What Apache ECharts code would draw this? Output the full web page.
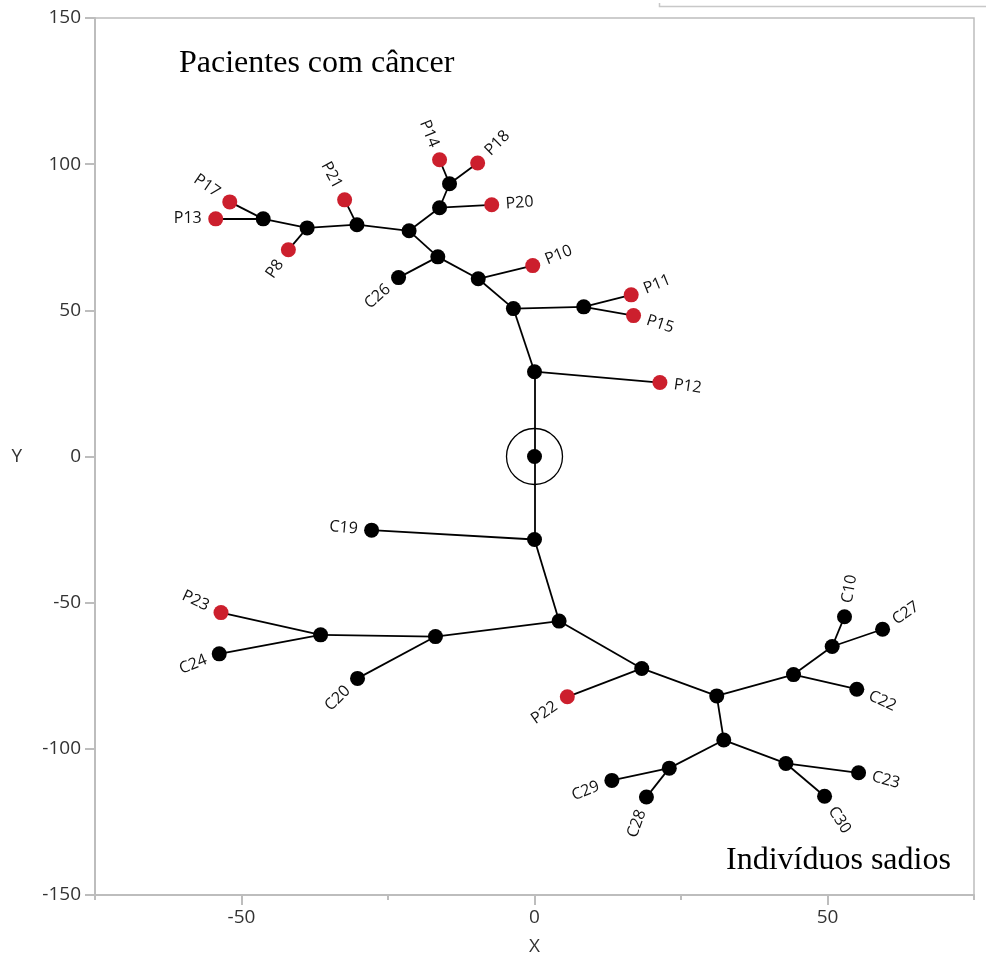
<!DOCTYPE html>
<html>
<head>
<meta charset="utf-8">
<script src="https://cdn.jsdelivr.net/npm/echarts@6/dist/echarts.min.js"></script>
<style>
  html, body { margin: 0; padding: 0; background: #fff; }
  #chart { width: 986px; height: 961px; }
</style>
</head>
<body>
<div id="chart"></div>
<script>
// ---- data ----
const nodeNames = ['', '', 'P12', '', '', 'P11', 'P15', '', 'P10', '', 'C26', '', '', 'P20', '', 'P14', 'P18', '', 'P21', '', 'P8', '', 'P17', 'P13',
  '', 'C19', '', '', 'C20', '', 'P23', 'C24', '', 'P22', '', '', '', 'C10', 'C27', 'C22', '', '', 'C29', 'C28', '', 'C23', 'C30'];
const nodeX = [0, 0, 21.4, -3.6, 8.4, 16.5, 16.9, -9.6, -0.3, -16.5, -23.2, -21.4, -16.2, -7.3, -14.5, -16.2, -9.7, -30.3, -32.4, -38.8, -42.0, -46.3, -52.0, -54.4,
  0, -27.8, 4.2, -16.9, -30.2, -36.5, -53.5, -53.8, 18.3, 5.6, 31.1, 44.2, 50.8, 52.9, 59.4, 55.0, 32.3, 23.0, 13.2, 19.1, 42.9, 55.3, 49.5];
const nodeY = [0, 29, 25.3, 50.6, 51.2, 55.3, 48.2, 60.8, 65.3, 68.3, 61.2, 77.2, 85.1, 86.1, 93.3, 101.5, 100.4, 79.3, 87.8, 78.2, 70.7, 81.3, 87.1, 81.3,
  -28.4, -25.2, -56.3, -61.6, -75.9, -61.0, -53.4, -67.5, -72.5, -82.2, -81.9, -74.6, -65.0, -54.8, -59.1, -79.6, -97.0, -106.6, -110.8, -116.5, -105.0, -108.2, -116.2];
const nodeParent = [-1, 0, 1, 1, 3, 4, 4, 3, 7, 7, 9, 9, 11, 12, 12, 14, 14, 11, 17, 17, 19, 19, 21, 21,
  0, 24, 24, 26, 27, 27, 29, 29, 26, 32, 32, 34, 35, 36, 36, 35, 34, 40, 41, 41, 40, 44, 44];
const rootIndex = 0;
const xLabelValues = [-50, 0, 50];
const xMinorTickValues = [-75, -25, 25, 75];
const annotations = ['Pacientes com câncer', 'Indivíduos sadios'];

// ---- styling ----
const labelRotate = { P12: -8, P11: 22, P15: -18, P10: 22, C26: 42, P20: 4, P14: -68, P18: 45, P21: -62, P8: 55, P17: -35, P13: 0,
  C19: -5, C20: 45, P23: -25, C24: 22, P22: 35, C10: 80, C27: 35, C22: -25, C29: 22, C28: 70, C23: -15, C30: -58 };
const NODE_SIZE = 15;
const LABEL_DIST = 14;
const RED = '#cc1f2d';
const BLACK = '#000000';
const AXIS_GRAY = '#bdbdbd';
const SANS = '"Open Sans", "Noto Sans", sans-serif';

// nodes
const nodeData = nodeNames.map((name, i) => {
  const item = {
    name: name,
    value: [nodeX[i], nodeY[i]],
    itemStyle: { color: name.charAt(0) === 'P' ? RED : BLACK, opacity: 1 }
  };
  if (name) {
    const p = nodeParent[i];
    const right = nodeX[i] - nodeX[p] >= 0;
    const rot = labelRotate[name] || 0;
    const phi = (right ? rot : rot + 180) * Math.PI / 180;
    const h = NODE_SIZE / 2;
    item.label = {
      show: true,
      formatter: name,
      position: [h + LABEL_DIST * Math.cos(phi), h - LABEL_DIST * Math.sin(phi)],
      rotate: rot,
      align: right ? 'left' : 'right',
      verticalAlign: 'middle'
    };
  }
  return item;
});

// edges
const edgeData = [];
nodeParent.forEach((p, i) => {
  if (p >= 0) edgeData.push({ coords: [[nodeX[p], nodeY[p]], [nodeX[i], nodeY[i]]] });
});

const chart = echarts.init(document.getElementById('chart'), null, { renderer: 'canvas' });
chart.setOption({
  animation: false,
  backgroundColor: '#ffffff',
  grid: { left: 95, right: 12, top: 18, bottom: 65, show: true, borderColor: AXIS_GRAY, borderWidth: 1.5, backgroundColor: 'transparent' },
  xAxis: [{
    type: 'value', min: -75, max: 75, interval: 25,
    name: 'X', nameLocation: 'middle', nameGap: 42,
    nameTextStyle: { fontSize: 19, color: '#333', fontFamily: SANS },
    axisLine: { show: true, onZero: false, lineStyle: { color: AXIS_GRAY, width: 2 } },
    axisTick: { show: true, length: 10, customValues: xLabelValues, lineStyle: { color: AXIS_GRAY, width: 2 } },
    axisLabel: { show: true, customValues: xLabelValues, margin: 13, fontSize: 19, color: '#333', fontFamily: SANS },
    splitLine: { show: false }
  }, {
    type: 'value', min: -75, max: 75, interval: 25, position: 'bottom',
    axisLine: { show: false, onZero: false },
    axisTick: { show: true, length: 5, customValues: xMinorTickValues, lineStyle: { color: AXIS_GRAY, width: 2 } },
    axisLabel: { show: false },
    splitLine: { show: false }
  }],
  yAxis: {
    type: 'value', min: -150, max: 150, interval: 50,
    name: 'Y', nameLocation: 'middle', nameRotate: 0, nameGap: 73,
    nameTextStyle: { fontSize: 19, color: '#333', fontFamily: SANS },
    axisLine: { show: true, onZero: false, lineStyle: { color: AXIS_GRAY, width: 2 } },
    axisTick: { show: true, length: 10, lineStyle: { color: AXIS_GRAY, width: 2 } },
    axisLabel: { margin: 14, fontSize: 19, color: '#333', fontFamily: SANS },
    splitLine: { show: false }
  },
  series: [{
    type: 'lines',
    coordinateSystem: 'cartesian2d',
    polyline: false,
    silent: true,
    z: 2,
    lineStyle: { color: BLACK, width: 1.8, opacity: 1, curveness: 0 },
    data: edgeData
  }, {
    type: 'scatter',
    z: 3,
    symbol: 'circle',
    symbolSize: 56,
    silent: true,
    itemStyle: { color: 'transparent', borderColor: BLACK, borderWidth: 1.3, opacity: 1 },
    data: [[nodeX[rootIndex], nodeY[rootIndex]]]
  }, {
    type: 'scatter',
    z: 4,
    symbol: 'circle',
    symbolSize: NODE_SIZE,
    emphasis: { disabled: true },
    itemStyle: { opacity: 1 },
    label: { show: false, fontSize: 16, color: '#111', fontFamily: SANS },
    data: nodeData
  }],
  graphic: [{
    type: 'text', left: 179, top: 48,
    style: { text: annotations[0], font: '32px "Liberation Serif", "Times New Roman", serif', fill: '#000' }
  }, {
    type: 'text', left: 726, top: 845,
    style: { text: annotations[1], font: '32px "Liberation Serif", "Times New Roman", serif', fill: '#000' }
  }, {
    type: 'polyline', silent: true,
    shape: { points: [[659.5, 3], [659.5, 6.5], [986, 6.5]] },
    style: { stroke: '#c8c8c8', lineWidth: 1.5, fill: null }
  }]
});
</script>
</body>
</html>
